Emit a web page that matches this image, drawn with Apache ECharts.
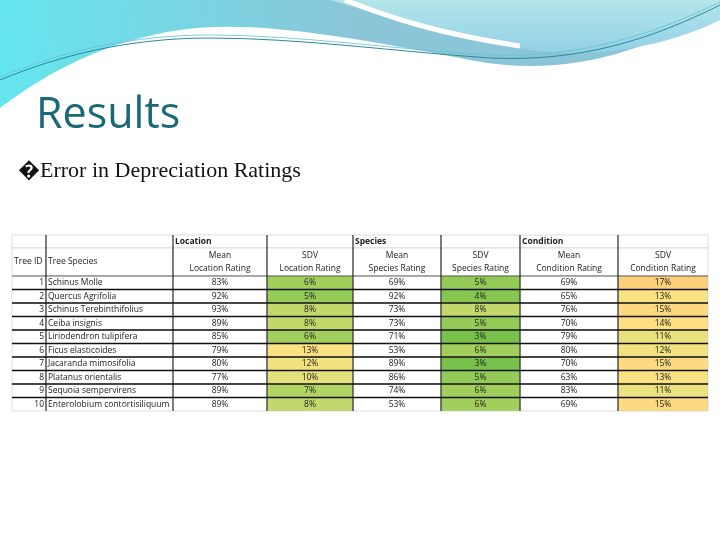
<!DOCTYPE html>
<html>
<head>
<meta charset="utf-8">
<script src="https://cdn.jsdelivr.net/npm/echarts@6/dist/echarts.min.js"></script>
<style>html,body{margin:0;padding:0;background:#fff}#chart-container{width:720px;height:540px}</style>
</head>
<body>
<div id="chart-container"></div>
<script>
// table data
const treeIds = [1, 2, 3, 4, 5, 6, 7, 8, 9, 10];
const species = ['Schinus Molle', 'Quercus Agrifolia', 'Schinus Terebinthifolius', 'Ceiba insignis',
  'Liriodendron tulipifera', 'Ficus elasticoides', 'Jacaranda mimosifolia', 'Platanus orientalis',
  'Sequoia sempervirens', 'Enterolobium contortisiliquum'];
const meanLocation = [83, 92, 93, 89, 85, 79, 80, 77, 89, 89];
const sdvLocation = [6, 5, 8, 8, 6, 13, 12, 10, 7, 8];
const meanSpecies = [69, 92, 73, 73, 71, 53, 89, 86, 74, 53];
const sdvSpecies = [5, 4, 8, 5, 3, 6, 3, 5, 6, 6];
const meanCondition = [69, 65, 76, 70, 79, 80, 70, 63, 83, 69];
const sdvCondition = [17, 13, 15, 14, 11, 12, 15, 13, 11, 15];
const groupLabels = ['', '', 'Location', '', 'Species', '', 'Condition', ''];
const headerLabels = ['Tree ID', 'Tree Species', 'Mean\nLocation Rating', 'SDV\nLocation Rating',
  'Mean\nSpecies Rating', 'SDV\nSpecies Rating', 'Mean\nCondition Rating', 'SDV\nCondition Rating'];

// layout of the table (widths/heights in px)
const colWidths = [34, 127, 94, 86, 88, 79, 98, 90];
const rowHeights = [13, 28, 13.5, 13.5, 13.5, 13.5, 13.5, 13.5, 13.5, 13.5, 13.5, 13.5];
const colEdges = [0];
colWidths.forEach(w => colEdges.push(colEdges[colEdges.length - 1] + w));
const rowEdges = [0];
rowHeights.forEach(h => rowEdges.push(rowEdges[rowEdges.length - 1] + h));

const plainCells = [];
const sdvCells = [];
groupLabels.forEach((t, c) => plainCells.push([c, 0, t, 'group']));
headerLabels.forEach((t, c) => plainCells.push([c, 1, t, 'head']));
treeIds.forEach((id, i) => {
  const r = i + 2;
  plainCells.push([0, r, String(id), 'id']);
  plainCells.push([1, r, species[i], 'name']);
  plainCells.push([2, r, meanLocation[i] + '%', 'num']);
  plainCells.push([4, r, meanSpecies[i] + '%', 'num']);
  plainCells.push([6, r, meanCondition[i] + '%', 'num']);
  sdvCells.push([3, r, sdvLocation[i] + '%', sdvLocation[i]]);
  sdvCells.push([5, r, sdvSpecies[i] + '%', sdvSpecies[i]]);
  sdvCells.push([7, r, sdvCondition[i] + '%', sdvCondition[i]]);
});

function cellRect(api, c, r) {
  const p0 = api.coord([colEdges[c], rowEdges[r]]);
  const p1 = api.coord([colEdges[c + 1], rowEdges[r + 1]]);
  return { x: p0[0], y: p0[1], width: p1[0] - p0[0], height: p1[1] - p0[1] };
}

function renderCell(params, api) {
  const c = api.value(0), r = api.value(1);
  const isSdv = params.seriesIndex === 2;
  const d = isSdv ? sdvCells[params.dataIndex] : plainCells[params.dataIndex];
  const rect = cellRect(api, c, r);
  const kind = d[3];
  let align = 'center', tx = rect.x + rect.width / 2;
  if (kind === 'id') { align = 'right'; tx = rect.x + rect.width - 2; }
  if (kind === 'name' || kind === 'group' || (kind === 'head' && c < 2)) { align = 'left'; tx = rect.x + 2; }
  return {
    type: 'group',
    children: [
      { type: 'rect', shape: rect, style: { fill: isSdv ? api.visual('color') : '#fff', stroke: '#c8c8c8', lineWidth: 0.6 } },
      { type: 'text', style: {
          text: d[2], x: tx, y: rect.y + rect.height / 2, align: align, verticalAlign: 'middle',
          fontFamily: 'Open Sans', fontSize: 8.5, lineHeight: 13,
          fontWeight: kind === 'group' ? 'bold' : 'normal', fill: '#222'
        } }
    ]
  };
}

function renderLines(params, api) {
  const children = [];
  const top = api.coord([0, 0]), bot = api.coord([colEdges[colEdges.length - 1], rowEdges[rowEdges.length - 1]]);
  [1, 2, 3, 4, 5, 6, 7].forEach(c => {
    const x = api.coord([colEdges[c], 0])[0];
    children.push({ type: 'line', shape: { x1: x, y1: top[1], x2: x, y2: bot[1] }, style: { stroke: '#111', lineWidth: 1 } });
  });
  for (let r = 2; r <= rowEdges.length - 2; r++) {
    const y = api.coord([0, rowEdges[r]])[1];
    children.push({ type: 'line', shape: { x1: top[0], y1: y, x2: bot[0], y2: y }, style: { stroke: '#111', lineWidth: r === 2 ? 0.6 : 1.4 } });
  }
  return { type: 'group', children: children };
}

function grad(x, y, x2, y2, stops) {
  return { type: 'linear', x: x, y: y, x2: x2, y2: y2,
    colorStops: stops.map((c, i) => ({ offset: i / (stops.length - 1), color: c })) };
}

// decorative slide header waves
function renderWaves() {
  return {
    type: 'group',
    children: [
      { type: 'path', shape: { pathData: 'M0 0 L720 0 L720 8 C640 55 560 78 470 60 C340 35 250 20 180 30 C110 40 50 70 0 108 Z' },
        style: { fill: grad(0, 1, 1, 0, ['#64e6ef', '#8ac6d8', '#8dc3d8']) } },
      { type: 'path', shape: { pathData: 'M330 0 L720 0 L720 20 C660 50 580 60 520 48 C440 30 380 15 330 0 Z' },
        style: { fill: grad(0, 0, 0, 1, ['#b4e6ea', '#92d0e6']) } },
      { type: 'path', shape: { pathData: 'M345 0 C390 18 440 34 520 46' }, style: { fill: null, stroke: '#fff', lineWidth: 5 } },
      { type: 'path', shape: { pathData: 'M0 80 C60 55 130 38 210 38 C300 38 400 52 490 58 C580 62 650 40 720 5' },
        style: { fill: null, stroke: '#2a8a9c', lineWidth: 1 } },
      { type: 'path', shape: { pathData: 'M0 77 C60 52 130 35 210 35 C300 35 400 50 490 55 C580 58 650 36 720 2' },
        style: { fill: null, stroke: '#6ac0cc', lineWidth: 0.8 } }
    ]
  };
}

let dom = document.getElementById('chart-container');
let myChart = echarts.init(dom, null, { renderer: 'canvas' });

let option = {
  animation: false,
  graphic: [
    { type: 'text', left: 36, top: 94, style: { text: 'Results', font: '43px "Open Sans"', fill: '#1a6878' } },
    { type: 'text', left: 18, top: 160, style: { text: '\uFFFDError in Depreciation Ratings', font: '22px "Liberation Serif"', fill: '#111' } }
  ],
  grid: { left: 12, right: 12, top: 235, bottom: 129 },
  xAxis: { type: 'value', min: 0, max: colEdges[colEdges.length - 1], show: false },
  yAxis: { type: 'value', min: 0, max: rowEdges[rowEdges.length - 1], inverse: true, show: false },
  visualMap: {
    show: false, seriesIndex: 2, dimension: 3, min: 3, max: 17,
    inRange: { color: ['#78c24c', '#a9d15e', '#e4e17c', '#fee283', '#fcd07a'] }
  },
  series: [
    { type: 'custom', coordinateSystem: 'none', renderItem: renderWaves, data: [0], z: 1 },
    { type: 'custom', renderItem: renderCell, data: plainCells, z: 2 },
    { type: 'custom', renderItem: renderCell, data: sdvCells, z: 2 },
    { type: 'custom', renderItem: renderLines, data: [[0, 0]], z: 3 }
  ]
};

myChart.setOption(option);
window.addEventListener('resize', myChart.resize);
</script>
</body>
</html>
